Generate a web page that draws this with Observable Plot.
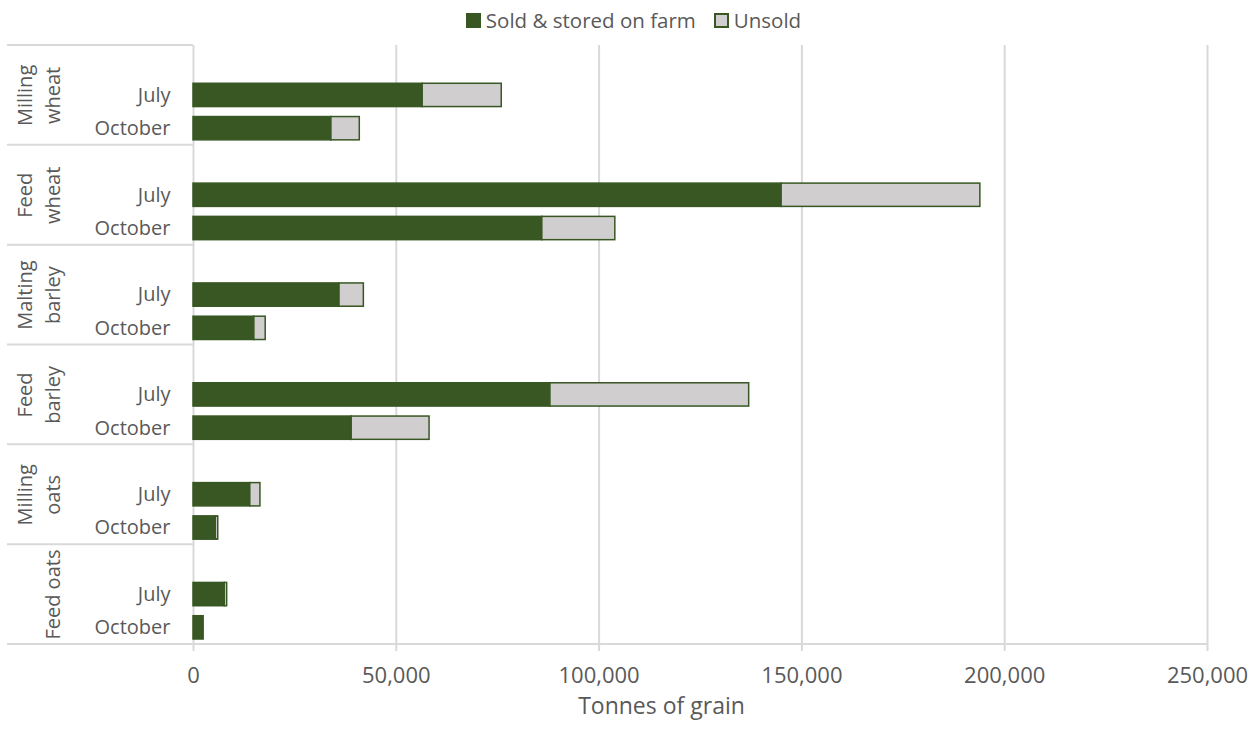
<!DOCTYPE html>
<html>
<head>
<meta charset="utf-8">
<script src="https://cdn.jsdelivr.net/npm/d3@7"></script>
<script src="https://cdn.jsdelivr.net/npm/@observablehq/plot@0.6"></script>
<style>
  body { margin: 0; background: #fff; font-family: "Open Sans", sans-serif; color: #595959; }
  #legend { height: 40px; display: flex; align-items: center; justify-content: center; padding-left: 10px; font-size: 20.5px; }
  .item { display: flex; align-items: center; margin: 0 9px; }
  .sw { width: 15px; height: 15px; margin-right: 5px; box-sizing: border-box; }
</style>
</head>
<body>
<div id="legend"></div>
<div id="chart"></div>
<script>
const groups = ["Milling wheat", "Feed wheat", "Malting barley", "Feed barley", "Milling oats", "Feed oats"];
const groupLine1 = ["Milling", "Feed", "Malting", "Feed", "Milling", ""];
const groupLine2 = ["wheat", "wheat", "barley", "barley", "oats", "Feed oats"];
const months = ["July", "October"];
const types = ["Sold & stored on farm", "Unsold"];
const soldJuly = [56500, 145000, 36000, 88000, 14000, 7700];
const soldOctober = [34000, 86000, 15000, 39000, 5500, 2500];
const unsoldJuly = [19500, 49000, 6000, 49000, 2500, 600];
const unsoldOctober = [7000, 18000, 2800, 19200, 600, 0];
const xTicks = [0, 50000, 100000, 150000, 200000, 250000];
const axisTitle = "Tonnes of grain";

const green = "#385723", grey = "#d0cece", gridColor = "#d9d9d9";

// legend
const legend = d3.select("#legend");
types.forEach((t, i) => {
  const it = legend.append("div").attr("class", "item");
  it.append("div").attr("class", "sw")
    .style("background", i === 0 ? green : grey)
    .style("border", `2px solid ${green}`);
  it.append("span").text(t);
});

const key = (g, m) => g + "|" + m;
const yDomain = groups.flatMap(g => [key(g, ""), key(g, months[0]), key(g, months[1])]);
const rows = [];
groups.forEach((g, i) => {
  rows.push({y: key(g, months[0]), type: types[0], value: soldJuly[i]});
  rows.push({y: key(g, months[0]), type: types[1], value: unsoldJuly[i]});
  rows.push({y: key(g, months[1]), type: types[0], value: soldOctober[i]});
  rows.push({y: key(g, months[1]), type: types[1], value: unsoldOctober[i]});
});

const chart = Plot.plot({
  width: 1257,
  height: 689,
  marginTop: 5,
  marginBottom: 85,
  marginLeft: 193,
  marginRight: 50,
  style: {fontFamily: "'Open Sans', sans-serif", fontSize: "20px", color: "#595959", background: "#fff"},
  x: {domain: [0, 250000]},
  y: {type: "band", domain: yDomain, paddingInner: 0.3, paddingOuter: 0.15, round: false},
  color: {domain: types, range: [green, grey]},
  marks: [
    Plot.gridX(xTicks.slice(1), {stroke: gridColor, strokeOpacity: 1, strokeWidth: 2}),
    Plot.ruleX([0], {stroke: gridColor, strokeWidth: 2}),
    Plot.barX(rows, Plot.stackX({y: "y", x: "value", fill: "type", order: types, stroke: green, strokeWidth: 1.5})),
    Plot.axisY({tickSize: 0, tickPadding: 23, tickFormat: d => d.split("|")[1], fontSize: 20, label: null}),
    Plot.axisX({ticks: xTicks, tickSize: 7, tickPadding: 16, tickFormat: d3.format(","), stroke: gridColor, strokeWidth: 2, label: null, fontSize: 22}),
    Plot.text(groups, {y: g => key(g, months[0]), text: (g, i) => groupLine1[i], frameAnchor: "left", textAnchor: "middle", dx: -162, rotate: -90, lineAnchor: "bottom", fontSize: 20}),
    Plot.text(groups, {y: g => key(g, months[0]), text: (g, i) => groupLine2[i], frameAnchor: "left", textAnchor: "middle", dx: -134, rotate: -90, lineAnchor: "bottom", fontSize: 20}),
    Plot.text([axisTitle], {text: d => d, frameAnchor: "bottom", dx: -39, dy: 69, fontSize: 23})
  ]
});
document.getElementById("chart").appendChild(chart);

// separators in the category area + baseline, positioned with the chart's own scales
const ys = chart.scale("y"), xs = chart.scale("x");
const step = ys.step;
const boundaries = groups.map(g => ys.apply(key(g, "")) - step * 0.15);
const bottom = ys.range[1];
const svg = d3.select(chart);
const sep = svg.append("g").attr("stroke", gridColor).attr("stroke-width", 2);
boundaries.forEach(b => sep.append("line").attr("x1", 7).attr("x2", xs.range[0]).attr("y1", b).attr("y2", b));
sep.append("line").attr("x1", 7).attr("x2", xs.apply(250000)).attr("y1", bottom).attr("y2", bottom);
</script>
</body>
</html>
